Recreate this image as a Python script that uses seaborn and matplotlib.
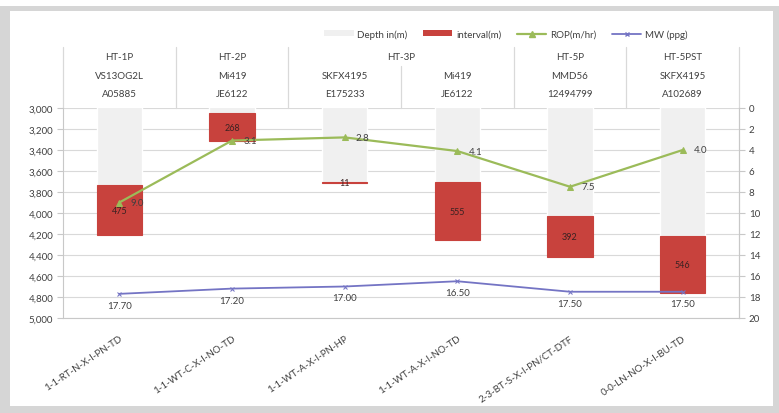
import numpy as np
import pandas as pd
import matplotlib
matplotlib.use("Agg")
import matplotlib.pyplot as plt
import matplotlib.transforms as mtransforms
from matplotlib.patches import Rectangle, Patch
from matplotlib.lines import Line2D
from matplotlib.ticker import FuncFormatter
import seaborn as sns

# ---- bit run data -------------------------------------------------------
bit_codes = ["1-1-RT-N-X-I-PN-TD", "1-1-WT-C-X-I-NO-TD", "1-1-WT-A-X-I-PN-HP",
             "1-1-WT-A-X-I-NO-TD", "2-3-BT-S-X-I-PN/CT-DTF", "0-0-LN-NO-X-I-BU-TD"]
wells = ["HT-1P", "HT-2P", "HT-3P", "HT-5P", "HT-5PST"]
well_first_bit = [0, 1, 2, 4, 5]
well_last_bit = [0, 1, 3, 4, 5]
bit_types = ["VS13OG2L", "Mi419", "SKFX4195", "Mi419", "MMD56", "SKFX4195"]
serials = ["A05885", "JE6122", "E175233", "JE6122", "12494799", "A102689"]
depth_in = [3735, 3050, 3700, 3705, 4030, 4215]      # m
interval = [475, 268, 11, 555, 392, 546]             # m
rop = [9.0, 3.1, 2.8, 4.1, 7.5, 4.0]                 # m/hr
mw = [17.70, 17.20, 17.00, 16.50, 17.50, 17.50]      # ppg

# ---- styling ------------------------------------------------------------
sns.set_style("white")
plt.rcParams["font.family"] = ["Lato", "DejaVu Sans"]

RED = "#c8423d"
GRAY_BAR = "#f0f0f0"
GREEN = "#9bbb59"
BLUE = "#7474c4"
GRID = "#d9d9d9"
TXT = "#404040"
FS = 7

W, H = 779, 414
fig = plt.figure(figsize=(W / 100, H / 100), dpi=100)
fig.patch.set_facecolor("white")

# light frame around the chart
for (x0, y0, w, h) in [(0, 402, 779, 5), (0, 0, 10, 407), (773, 0, 6, 407), (0, 0, 779, 7)]:
    fig.add_artist(Rectangle((x0 / W, y0 / H), w / W, h / H, transform=fig.transFigure,
                             facecolor="#d6d6d6", edgecolor="none", zorder=0))

ax = fig.add_axes([63 / W, 1 - 319 / H, (739 - 63) / W, 210 / H])
ax.set_facecolor("none")

df = pd.DataFrame({"bit": bit_codes, "depth_in": depth_in, "interval": interval,
                   "rop": rop, "mw": mw})
df["pos"] = np.arange(len(df))

# stacked depth bars: depth-in portion, then the drilled interval beneath it
sns.barplot(data=df, x="bit", y="depth_in", color=GRAY_BAR, width=0.4, saturation=1,
            errorbar=None, ax=ax, zorder=2)
sns.barplot(data=df, x="bit", y="interval", bottom=df["depth_in"].to_numpy(), color=RED,
            width=0.4, saturation=1, errorbar=None, ax=ax, zorder=3,
            edgecolor=RED, linewidth=0.8)

for i, row in df.iterrows():
    ax.text(i, row["depth_in"] + row["interval"] / 2, f"{row['interval']}",
            ha="center", va="center", fontsize=6.5, color="#3a2222", zorder=5)

ax.set_ylim(5000, 3000)
ax.set_yticks(range(3000, 5001, 200))
ax.yaxis.set_major_formatter(FuncFormatter(lambda v, p: f"{int(v):,}"))
ax.yaxis.grid(True, color=GRID, lw=0.8)
ax.set_axisbelow(True)
ax.spines["top"].set_visible(False)
for s in ["left", "bottom", "right"]:
    ax.spines[s].set_color("#c8c8c8")
    ax.spines[s].set_linewidth(0.8)
ax.tick_params(axis="y", which="major", length=4, color="#c8c8c8", labelsize=FS,
               labelcolor=TXT, pad=3)
ax.set_xlabel("")
ax.set_ylabel("")

# ---- secondary axis: ROP and mud weight ---------------------------------
ax2 = ax.twinx()
sns.lineplot(data=df, x="pos", y="rop", ax=ax2, color=GREEN, lw=1.6, marker="^",
             markersize=5, markeredgecolor=GREEN, zorder=4)
sns.lineplot(data=df, x="pos", y="mw", ax=ax2, color=BLUE, lw=1.3, marker="x",
             markersize=3.5, markeredgecolor=BLUE, zorder=4)
for i, v in enumerate(rop):
    ax2.annotate(f"{v:.1f}", (i, v), xytext=(8, 0), textcoords="offset points",
                 ha="left", va="center", fontsize=FS, color=TXT, zorder=6)
for i, v in enumerate(mw):
    ax2.annotate(f"{v:.2f}", (i, v), xytext=(0, -5), textcoords="offset points",
                 ha="center", va="top", fontsize=FS, color=TXT, zorder=6)
ax2.set_ylim(20, 0)
ax2.set_yticks(range(0, 21, 2))
ax2.tick_params(axis="y", length=4, color="#c8c8c8", labelsize=FS, labelcolor=TXT, pad=3)
ax2.set_ylabel("")
ax2.set_xlabel("")
for s in ["top", "left", "bottom"]:
    ax2.spines[s].set_visible(False)
ax2.spines["right"].set_color("#c8c8c8")
ax2.spines["right"].set_linewidth(0.8)

# ---- x axis -------------------------------------------------------------
ax.set_xlim(-0.5, len(bit_codes) - 0.5)
ax.set_xticks(range(len(bit_codes)))
ax.set_xticklabels(bit_codes, rotation=34, ha="right", rotation_mode="anchor",
                   fontsize=7, color=TXT)
ax.tick_params(axis="x", which="major", length=0, pad=11)
ax.set_xticks(np.arange(-0.5, len(bit_codes), 1), minor=True)
ax.tick_params(axis="x", which="minor", length=4, color="#c8c8c8")

# ---- well / bit header above the plot ----------------------------------
trans = mtransforms.blended_transform_factory(ax.transData, ax.transAxes)
for name, a, b in zip(wells, well_first_bit, well_last_bit):
    ax.text((a + b) / 2, 1.2476, name, transform=trans, ha="center", va="center",
            fontsize=FS, color=TXT)
for i, (bt, sn) in enumerate(zip(bit_types, serials)):
    ax.text(i, 1.157, bt, transform=trans, ha="center", va="center", fontsize=FS, color=TXT)
    ax.text(i, 1.0667, sn, transform=trans, ha="center", va="center", fontsize=FS, color=TXT)
for xb in [-0.5, 0.5, 1.5, 3.5, 4.5, 5.5]:
    ax.add_line(Line2D([xb, xb], [1.0, 1.29], transform=trans, color=GRID, lw=0.9,
                       clip_on=False))
ax.add_line(Line2D([2.5, 2.5], [1.0, 1.2], transform=trans, color=GRID, lw=0.9,
                   clip_on=False))
ax.set_xlim(-0.5, len(bit_codes) - 0.5)

# ---- legend -------------------------------------------------------------
handles = [Patch(facecolor=GRAY_BAR, edgecolor="none"),
           Patch(facecolor=RED, edgecolor="none"),
           Line2D([], [], color=GREEN, lw=1.6, marker="^", markersize=4),
           Line2D([], [], color=BLUE, lw=1.3, marker="x", markersize=3)]
labels = ["Depth in(m)", "interval(m)", "ROP(m/hr)", "MW (ppg)"]
fig.legend(handles, labels, loc="center", bbox_to_anchor=(506 / W, 1 - 35 / H), ncol=4,
           frameon=False, fontsize=FS, handlelength=3, handleheight=0.6,
           columnspacing=1.6, handletextpad=0.4, labelcolor=TXT)

fig.savefig("out.png", dpi=100)
